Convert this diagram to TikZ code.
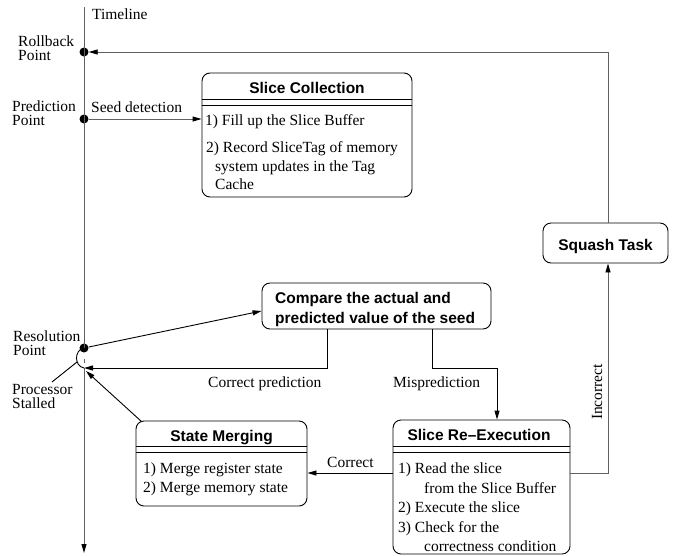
\documentclass[tikz,border=0pt]{standalone}
\usepackage{fontspec}
\setmainfont{Liberation Serif}
\setsansfont{Liberation Sans}
\usetikzlibrary{arrows.meta}
\begin{document}
\begin{tikzpicture}[x=1pt,y=-1pt,
  txt/.style={anchor=base west,inner sep=0pt,font=\fontsize{15.5}{18}\selectfont},
  ttl/.style={anchor=base,inner sep=0pt,font=\fontsize{15.5}{18}\selectfont\sffamily\bfseries},
  box/.style={draw,rounded corners=8pt,line width=0.9pt,inner sep=0pt},
  ln/.style={line width=0.9pt},
  gl/.style={line width=0.9pt,draw=black!62},
  arr/.style={-{Triangle[length=9pt,width=5pt,color=black]}},
  dot/.style={circle,fill,inner sep=0pt,minimum size=9pt}]
\useasboundingbox (0,0) rectangle (677,555);

% boxes
\node[box,minimum width=210pt,minimum height=124pt] (sc) at (307,135) {};
\node[box,minimum width=229pt,minimum height=46pt] (cmp) at (376.5,306) {};
\node[box,minimum width=125pt,minimum height=40pt] (sq) at (605.5,243) {};
\node[box,minimum width=177pt,minimum height=134pt] (sre) at (481.5,487) {};
\node[box,minimum width=171pt,minimum height=85pt] (sm) at (221.5,463.5) {};

% double separators
\draw[ln] (202,99) -- (412,99) (202,105) -- (412,105);
\draw[ln] (393,446) -- (570,446) (393,452) -- (570,452);
\draw[ln] (136,446) -- (307,446) (136,452) -- (307,452);

% titles
\node[ttl] (tsc) at (307,93) {Slice Collection};
\node[ttl] (tsq) at (605.5,250) {Squash Task};
\node[ttl] (tsre) at (479,440) {Slice Re--Execution};
\node[ttl] (tsm) at (221.5,441) {State Merging};
\node[txt,font=\fontsize{15.5}{18}\selectfont\sffamily\bfseries] (tc1) at (275,303) {Compare the actual and};
\node[txt,font=\fontsize{15.5}{18}\selectfont\sffamily\bfseries] (tc2) at (275,323) {predicted value of the seed};

% box items
\node[txt] (s1) at (205,125) {1) Fill up the Slice Buffer};
\node[txt] (s2) at (206,152) {2) Record SliceTag of memory};
\node[txt] (s3) at (215,171) {system updates in the Tag};
\node[txt] (s4) at (215,189) {Cache};
\node[txt] (r1) at (398,473) {1) Read the slice};
\node[txt] (r2) at (424,493) {from the Slice Buffer};
\node[txt] (r3) at (398,512) {2) Execute the slice};
\node[txt] (r4) at (398,532) {3) Check for the};
\node[txt] (r5) at (424,551) {correctness condition};
\node[txt] (m1) at (143,473) {1) Merge register state};
\node[txt] (m2) at (143,492) {2) Merge memory state};

% timeline
\coordinate (tltop) at (84,7);
\coordinate (tlbot) at (84,553);
\node[dot] (rb) at (84,52) {};
\node[dot] (pp) at (84,119) {};
\node[dot] (rp) at (84,348) {};
\coordinate (stall) at (84,368);
\draw[gl] (tltop) -- (rp.center);
\draw[gl,arr] (stall) -- (tlbot);
\draw[gl] (84,359) -- (84,363);
\draw[ln] (rp.center) .. controls (74,350) and (74,366) .. (stall);
\coordinate (psl) at (52,382);
\coordinate (arcl) at (77,362);
\draw[ln] (psl) -- (arcl);

% timeline labels
\node[txt] (ltl) at (92,19) {Timeline};
\node[txt] (lrb1) at (18,46) {Rollback};
\node[txt] (lrb2) at (18,60) {Point};
\node[txt] (lpp1) at (12,111) {Prediction};
\node[txt] (lpp2) at (12,125) {Point};
\node[txt] (lrp1) at (13,341) {Resolution};
\node[txt] (lrp2) at (13,355) {Point};
\node[txt] (lps1) at (12,394) {Processor};
\node[txt] (lps2) at (12,408) {Stalled};

% connectors
\draw[gl,arr] ([xshift=2.5pt]sq.north) |- (rb);
\draw[gl,arr] (pp) -- (pp -| sc.west);
\node[txt] (lsd) at (91,112) {Seed detection};
\draw[ln,arr] (rp) -- ([yshift=-5pt]cmp.west);
\draw[ln,arr] ([xshift=-49.5pt]cmp.south) |- (stall);
\node[txt] (lcp) at (208,387) {Correct prediction};
\draw[ln,arr] ([xshift=55.5pt]cmp.south) -- ++(0,39) -| ([xshift=15.5pt]sre.north);
\node[txt] (lmp) at (393,387) {Misprediction};
\draw[gl,arr] ([yshift=14pt]sre.east) -| ([xshift=2.5pt]sq.south);
\node[inner sep=0pt,rotate=90,font=\fontsize{15.5}{18}\selectfont] (linc) at (597,392) {Incorrect};
\coordinate (c1) at ([yshift=14pt]sre.west);
\draw[ln,arr] (c1) -- (c1 -| sm.east);
\node[txt] (lco) at (327,467) {Correct};
\draw[ln,arr] ([xshift=6pt,yshift=-1pt]sm.north west) -- ([xshift=2pt,yshift=-3pt]stall);
\end{tikzpicture}
\end{document}
